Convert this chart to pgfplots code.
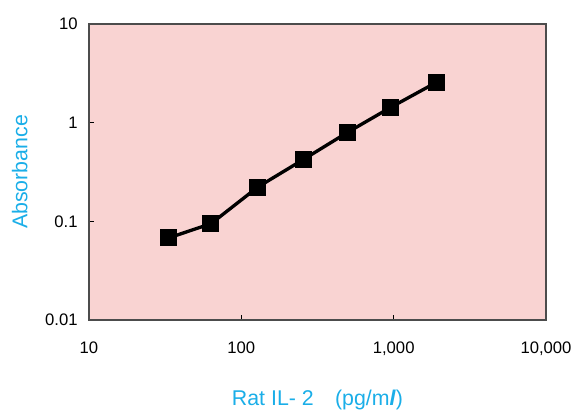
\documentclass[border=0pt]{standalone}
\usepackage{pgfplots}
\pgfplotsset{compat=1.18}
\usepackage{fontspec}
\setmainfont{Liberation Sans}
\definecolor{bgpink}{HTML}{F9D3D2}
\definecolor{lblcyan}{HTML}{1AAEE8}
\begin{document}
\begin{tikzpicture}
\path[use as bounding box] (-66.75pt,-69.75pt) rectangle (365.25pt,240pt);
\begin{axis}[
  scale only axis,
  width=342.75pt, height=222pt,
  xmode=log, ymode=log,
  xmin=10, xmax=10000, ymin=0.01, ymax=10,
  xtick={10,100,1000,10000}, xticklabels={10,100,{1,000},{10,000}},
  ytick={0.01,0.1,1,10}, yticklabels={0.01,0.1,1,10},
  xminorticks=false, yminorticks=false,
  tick pos=left, tick align=inside, major tick length=4pt,
  tick style={black, line width=0.6pt},
  axis line style={black!70, line width=0.8pt},
  axis background/.style={fill=bgpink},
  tick label style={font=\fontsize{12.5}{14}\selectfont, text=black},
  xticklabel style={yshift=-13pt},
  yticklabel style={xshift=-5pt},
  label style={font=\fontsize{16}{18}\selectfont, text=lblcyan},
  xlabel={Rat IL- 2\quad(pg/m\textbf{\textit{l}})},
  ylabel={Absorbance},
  xlabel style={at={(axis description cs:0.5,0)}, anchor=center, yshift=-60pt},
  ylabel style={at={(axis description cs:0,0.5)}, anchor=center, yshift=52pt},
]
\addplot[black, line width=2.5pt, mark=square*, mark size=6pt,
  mark options={solid, line width=0pt}] coordinates {
  (33.2,0.0678) (63.2,0.0946) (128,0.222) (254,0.421)
  (497,0.796) (957,1.43) (1897,2.55)};
\end{axis}
\end{tikzpicture}
\end{document}
